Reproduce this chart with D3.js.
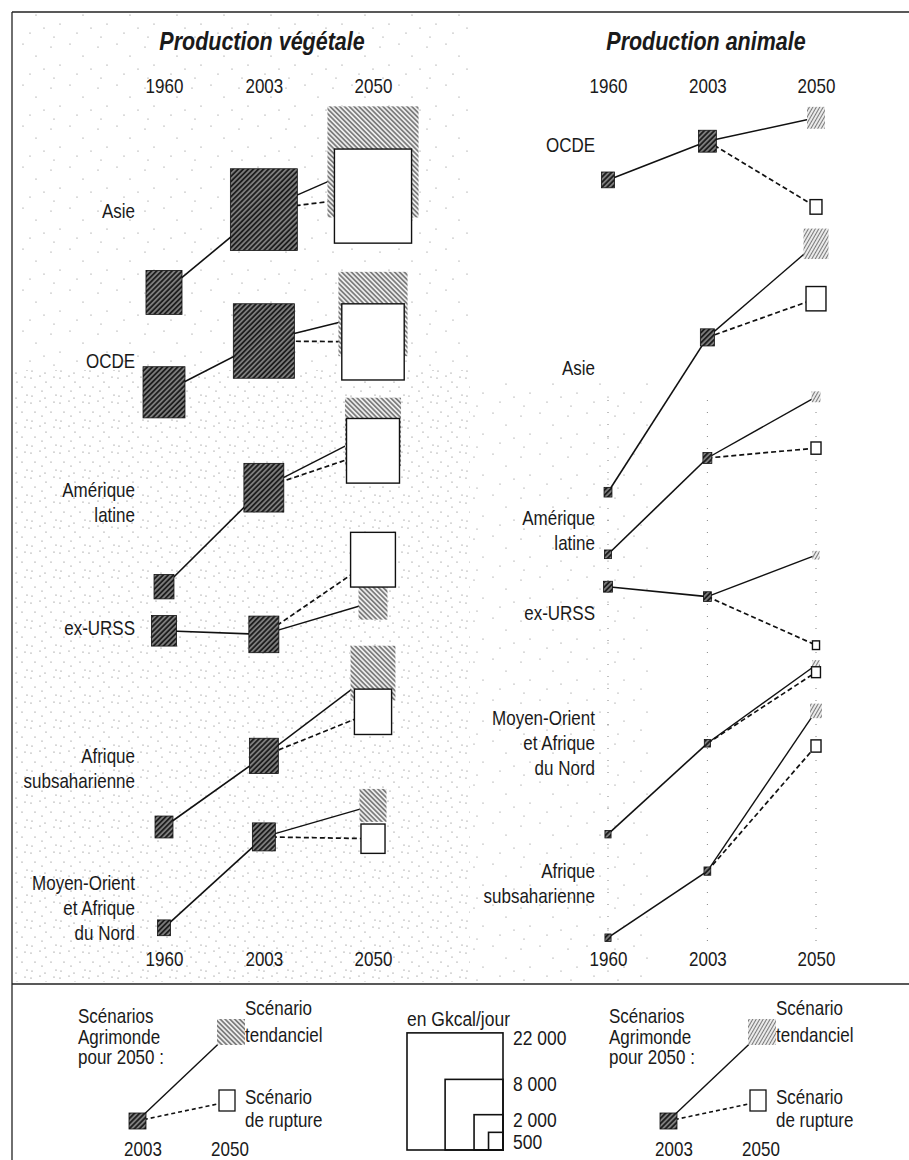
<!DOCTYPE html>
<html lang="fr">
<head>
<meta charset="utf-8">
<script src="https://cdn.jsdelivr.net/npm/d3@7"></script>
<style>
  html, body { margin: 0; padding: 0; background: #fff; }
  svg text { font-family: "Liberation Sans", Arial, sans-serif; fill: #1a1a1a; }
</style>
</head>
<body>
<svg id="chart" width="909" height="1160"></svg>
<script>
// Années des colonnes
const annees = [1960, 2003, 2050]

// Production végétale, en Gkcal/jour
const regionsVeg = ["Asie", "OCDE", "Amérique\nlatine", "ex-URSS", "Afrique\nsubsaharienne", "Moyen-Orient\net Afrique\ndu Nord"]
const veg1960 = [3100, 4200, 950, 1500, 770, 400]
const veg2003 = [10700, 8900, 3800, 2150, 2000, 1260]
const vegTend = [19800, 11400, 7500, 2000, 4800, 1740]
const vegRupt = [14200, 9300, 6700, 4800, 3300, 1380]
// niveau vertical (indice 0-100) de chaque point
const vegNiv1960 = [76.4, 65.3, 43.7, 38.8, 17.0, 5.8]
const vegNiv2003 = [85.6, 71.0, 54.7, 38.4, 24.9, 15.9]
const vegNivTend = [90.9, 74.0, 60.9, 42.0, 34.1, 19.4]
const vegNivRupt = [87.1, 70.9, 58.8, 46.7, 29.8, 15.7]
const vegNivEtiquette = [84.7, 68.0, 53.7, 38.3, 24.1, 10.0]

// Production animale, en Gkcal/jour
const regionsAni = ["OCDE", "Asie", "Amérique\nlatine", "ex-URSS", "Moyen-Orient\net Afrique\ndu Nord", "Afrique\nsubsaharienne"]
const ani1960 = [400, 150, 120, 190, 90, 90]
const ani2003 = [770, 470, 190, 150, 90, 110]
const aniTend = [770, 1490, 190, 120, 150, 340]
const aniRupt = [340, 950, 240, 120, 190, 240]
const aniNiv1960 = [88.9, 54.2, 47.3, 43.7, 16.2, 4.7]
const aniNiv2003 = [93.2, 71.4, 58.0, 42.6, 26.3, 12.1]
const aniNivTend = [95.8, 81.8, 64.8, 47.2, 35.0, 29.9]
const aniNivRupt = [85.9, 75.7, 59.1, 37.2, 34.2, 26.0]
const aniNivEtiquette = [92.0, 67.2, 50.6, 40.0, 28.3, 11.3]

// Légende des tailles
const tailleLegende = [22000, 8000, 2000, 500]
const tailleLibelles = ["22 000", "8 000", "2 000", "500"]

const ASPECT = 1.22   // l'original est étiré verticalement
const SY = 1.2        // même étirement pour les textes

const svg = d3.select("#chart")
const defs = svg.append("defs")

function texte(parent, x, yy, s, size, anchor = "start") {
  return parent.append("text")
    .attr("transform", `translate(${x},${yy}) scale(1,${SY})`)
    .attr("text-anchor", anchor)
    .attr("font-size", size)
    .text(s)
}

// Motifs
function hachure(id, fond, trait, largeur, pas, angle) {
  const p = defs.append("pattern")
    .attr("id", id)
    .attr("patternUnits", "userSpaceOnUse")
    .attr("width", pas).attr("height", pas)
    .attr("patternTransform", `rotate(${angle})`)
  p.append("rect").attr("width", pas).attr("height", pas).attr("fill", fond)
  p.append("line")
    .attr("x1", pas / 2).attr("y1", 0).attr("x2", pas / 2).attr("y2", pas)
    .attr("stroke", trait).attr("stroke-width", largeur)
}
hachure("fonce", "#1e1e1e", "#b8b8b8", 1.1, 3.6, 45)
hachure("clair", "#ececec", "#5a5a5a", 1.3, 3.4, -45)
hachure("clair-ani", "#f0f0f0", "#7a7a7a", 1.1, 3, 30)

function pointille(id, w, h, pts, r, couleur) {
  const p = defs.append("pattern")
    .attr("id", id)
    .attr("patternUnits", "userSpaceOnUse")
    .attr("width", w).attr("height", h)
  p.selectAll("circle").data(pts).join("circle")
    .attr("cx", d => d[0]).attr("cy", d => d[1]).attr("r", r).attr("fill", couleur)
}
pointille("pointille-dense", 29, 25,
  [[2, 3], [11, 1], [17, 7], [25, 2], [6, 12], [13, 16], [22, 12], [27, 20], [3, 21], [16, 23]], 0.6, "#666")
pointille("pointille-leger", 47, 41,
  [[4, 6], [23, 3], [36, 15], [13, 24], [30, 33], [44, 28], [7, 37]], 0.6, "#777")

// Fond pointillé
svg.append("rect").attr("x", 14).attr("y", 14).attr("width", 456).attr("height", 356)
  .attr("fill", "url(#pointille-leger)")
svg.append("rect").attr("x", 14).attr("y", 370).attr("width", 456).attr("height", 612)
  .attr("fill", "url(#pointille-dense)")
svg.append("rect").attr("x", 470).attr("y", 380).attr("width", 180).attr("height", 602)
  .attr("fill", "url(#pointille-leger)")

// Cadre
svg.append("line").attr("x1", 12).attr("y1", 12).attr("x2", 909).attr("y2", 12)
  .attr("stroke", "#222").attr("stroke-width", 1.3)
svg.append("line").attr("x1", 12).attr("y1", 12).attr("x2", 12).attr("y2", 1160)
  .attr("stroke", "#222").attr("stroke-width", 1.3)
svg.append("line").attr("x1", 12).attr("y1", 984).attr("x2", 909).attr("y2", 984)
  .attr("stroke", "#222").attr("stroke-width", 1.6)

const y = d3.scaleLinear().domain([0, 100]).range([980, 80])
const taille = d3.scaleSqrt().domain([0, 22000]).range([0, 96])

function panneau(cfg) {
  const x = d3.scaleLinear().domain([1960, 2050]).range(cfg.range)
  const g = svg.append("g")

  if (cfg.repères) {
    g.selectAll("line.repere").data(annees).join("line").attr("class", "repere")
      .attr("x1", d => x(d)).attr("x2", d => x(d))
      .attr("y1", 400).attr("y2", 945)
      .attr("stroke", "#777").attr("stroke-width", 0.9).attr("stroke-dasharray", "1,11")
  }

  texte(g, cfg.titreX, 50, cfg.titre, 21.5, "middle")
    .attr("font-style", "italic").attr("font-weight", "bold")

  for (const yy of [93, 966]) {
    const ax = g.append("g")
      .attr("transform", `translate(0,${yy})`)
      .call(d3.axisTop(x).tickValues(annees).tickFormat(d3.format("d")).tickSize(0).tickPadding(0))
    ax.select(".domain").remove()
    ax.selectAll("text")
      .attr("font-size", 17).attr("font-family", null).attr("fill", "#1a1a1a")
      .attr("transform", `scale(1,${SY})`)
  }

  const data = cfg.regions.map((nom, i) => ({
    nom,
    lignes: nom.split("\n"),
    etiquette: cfg.nivEtiquette[i],
    base: [
      { an: 1960, v: cfg.v1960[i], n: cfg.n1960[i] },
      { an: 2003, v: cfg.v2003[i], n: cfg.n2003[i] }
    ],
    tend: { an: 2050, v: cfg.vTend[i], n: cfg.nTend[i] },
    rupt: { an: 2050, v: cfg.vRupt[i], n: cfg.nRupt[i] }
  }))

  const ligne = d3.line().x(d => x(d.an)).y(d => y(d.n))

  const region = g.selectAll("g.region").data(data).join("g").attr("class", "region")

  region.append("path")
    .attr("d", d => ligne([d.base[0], d.base[1]]))
    .attr("fill", "none").attr("stroke", "#111").attr("stroke-width", 1.6)
  region.append("path")
    .attr("d", d => ligne([d.base[1], d.tend]))
    .attr("fill", "none").attr("stroke", "#111").attr("stroke-width", 1.4)
  region.append("path")
    .attr("d", d => ligne([d.base[1], d.rupt]))
    .attr("fill", "none").attr("stroke", "#111").attr("stroke-width", 1.7)
    .attr("stroke-dasharray", "5,3")

  const carre = (sel, fill, stroke, sw) => sel
    .attr("x", d => x(d.an) - taille(d.v) / 2)
    .attr("y", d => y(d.n) - taille(d.v) * ASPECT / 2)
    .attr("width", d => taille(d.v))
    .attr("height", d => taille(d.v) * ASPECT)
    .attr("fill", fill).attr("stroke", stroke).attr("stroke-width", sw)

  region.selectAll("rect.base").data(d => d.base).join("rect").attr("class", "base")
    .call(carre, "url(#fonce)", "#111", 0.8)
  region.append("rect").datum(d => d.tend).call(carre, cfg.fillTend, "none", 0)
  region.append("rect").datum(d => d.rupt).call(carre, "#fff", "#111", 1.4)

  region.selectAll("text.etiquette")
    .data(d => d.lignes.map((l, i) => ({ l, yy: y(d.etiquette) + i * 25 })))
    .join("text").attr("class", "etiquette")
    .attr("text-anchor", "end")
    .attr("font-size", 17)
    .attr("transform", d => `translate(${x(1960) - cfg.decalEtiquette},${d.yy}) scale(1,${SY})`)
    .text(d => d.l)
}

panneau({
  titre: "Production végétale", titreX: 262, range: [164, 373],
  regions: regionsVeg, v1960: veg1960, v2003: veg2003, vTend: vegTend, vRupt: vegRupt,
  n1960: vegNiv1960, n2003: vegNiv2003, nTend: vegNivTend, nRupt: vegNivRupt,
  nivEtiquette: vegNivEtiquette, decalEtiquette: 29, fillTend: "url(#clair)", repères: false
})
panneau({
  titre: "Production animale", titreX: 706, range: [608, 816],
  regions: regionsAni, v1960: ani1960, v2003: ani2003, vTend: aniTend, vRupt: aniRupt,
  n1960: aniNiv1960, n2003: aniNiv2003, nTend: aniNivTend, nRupt: aniNivRupt,
  nivEtiquette: aniNivEtiquette, decalEtiquette: 13, fillTend: "url(#clair-ani)", repères: true
})

// Légende des scénarios
function legendeScenario(ox, oy, fillTend) {
  const g = svg.append("g").attr("transform", `translate(${ox},${oy})`)
  ;["Scénarios", "Agrimonde", "pour 2050 :"].forEach((s, i) => texte(g, -59, -98 + i * 20.5, s, 17))

  g.append("line").attr("x1", 0).attr("y1", 0).attr("x2", 94).attr("y2", -89)
    .attr("stroke", "#111").attr("stroke-width", 1.4)
  g.append("line").attr("x1", 0).attr("y1", 0).attr("x2", 90).attr("y2", -19)
    .attr("stroke", "#111").attr("stroke-width", 1.6).attr("stroke-dasharray", "4,3")

  g.append("rect").attr("x", -8).attr("y", -8).attr("width", 17).attr("height", 16)
    .attr("fill", "url(#fonce)").attr("stroke", "#111").attr("stroke-width", 0.8)
  g.append("rect").attr("x", 80).attr("y", -102).attr("width", 28).attr("height", 26)
    .attr("fill", fillTend)
  g.append("rect").attr("x", 82).attr("y", -31).attr("width", 16).attr("height", 21)
    .attr("fill", "#fff").attr("stroke", "#111").attr("stroke-width", 1.3)

  texte(g, 108, -106, "Scénario", 17)
  texte(g, 108, -79, "tendanciel", 17)
  texte(g, 108, -17, "Scénario", 17)
  texte(g, 108, 6, "de rupture", 17)

  texte(g, 6, 35, "2003", 17, "middle")
  texte(g, 93, 35, "2050", 17, "middle")
}
legendeScenario(137, 1121, "url(#clair)")
legendeScenario(668, 1121, "url(#clair-ani)")

// Légende des tailles
const gl = svg.append("g")
texte(gl, 407, 1026, "en Gkcal/jour", 17.5)
const coinX = 503, coinY = 1150
let precedent = -Infinity
const posLibelles = tailleLegende.map(d => {
  const b = Math.max(coinY - taille(d) * ASPECT + 12, precedent + 22)
  precedent = b
  return b
})
const leg = gl.selectAll("g.taille").data(tailleLegende).join("g").attr("class", "taille")
leg.append("rect")
  .attr("x", d => coinX - taille(d))
  .attr("y", d => coinY - taille(d) * ASPECT)
  .attr("width", d => taille(d))
  .attr("height", d => taille(d) * ASPECT)
  .attr("fill", "none").attr("stroke", "#111").attr("stroke-width", 1.6)
leg.append("text")
  .attr("font-size", 17.5)
  .attr("transform", (d, i) => `translate(${coinX + 10},${posLibelles[i]}) scale(1,${SY})`)
  .text((d, i) => tailleLibelles[i])
</script>
</body>
</html>
